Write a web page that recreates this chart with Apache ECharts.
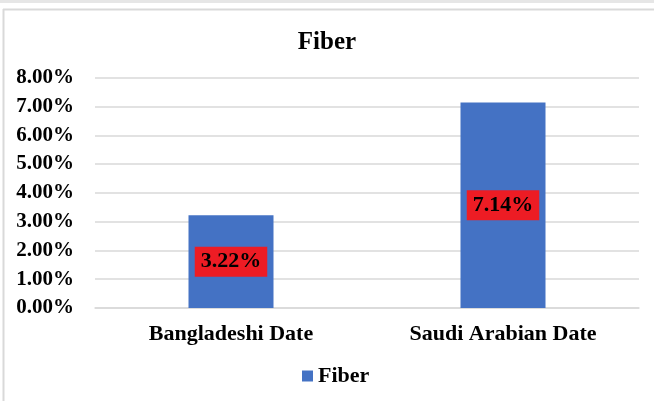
<!DOCTYPE html>
<html>
<head>
<meta charset="utf-8">
<style>
  html, body { margin: 0; padding: 0; background: #ffffff; }
  #chart { width: 654px; height: 401px; }
</style>
<script src="https://cdn.jsdelivr.net/npm/echarts@6/dist/echarts.min.js"></script>
</head>
<body>
<div id="chart"></div>
<script>
// Fiber content by date variety
const categories = ['Bangladeshi Date', 'Saudi Arabian Date'];
const seriesName = 'Fiber';
const fiberValues = [0.0322, 0.0714];
const yTicks = { min: 0, max: 0.08, interval: 0.01 };

const serif = '"Liberation Serif", "Times New Roman", serif';
const pct = v => (v * 100).toFixed(2) + '%';

const chart = echarts.init(document.getElementById('chart'), null, { renderer: 'canvas' });

chart.setOption({
  backgroundColor: '#ffffff',
  animation: false,
  graphic: [
    { type: 'rect', shape: { x: 0, y: 0, width: 654, height: 3 }, style: { fill: '#e6e6e6' }, silent: true },
    { type: 'line', shape: { x1: 3, y1: 9.5, x2: 654, y2: 9.5 }, style: { stroke: '#d9d9d9', lineWidth: 2 }, silent: true },
    { type: 'line', shape: { x1: 3.5, y1: 9, x2: 3.5, y2: 401 }, style: { stroke: '#d9d9d9', lineWidth: 2 }, silent: true }
  ],
  title: {
    text: seriesName,
    left: 'center',
    top: 25,
    textStyle: { fontFamily: serif, fontWeight: 'bold', fontSize: 25, color: '#000' }
  },
  legend: {
    data: [seriesName],
    left: 297,
    top: 360,
    icon: 'rect',
    itemWidth: 11,
    itemHeight: 11,
    itemGap: 5,
    textStyle: { fontFamily: serif, fontWeight: 'bold', fontSize: 22, color: '#000' }
  },
  grid: { left: 95, right: 15, top: 77.7, bottom: 93, containLabel: false },
  xAxis: {
    type: 'category',
    data: categories,
    axisLine: { lineStyle: { color: '#d9d9d9', width: 1.5 } },
    axisTick: { show: false },
    axisLabel: { margin: 15, fontFamily: serif, fontWeight: 'bold', fontSize: 22, color: '#000' }
  },
  yAxis: {
    type: 'value',
    min: yTicks.min,
    max: yTicks.max,
    interval: yTicks.interval,
    axisLine: { show: false },
    axisTick: { show: false },
    splitLine: { lineStyle: { color: '#d9d9d9', width: 1.5 } },
    axisLabel: {
      margin: 21,
      formatter: pct,
      fontFamily: serif, fontWeight: 'bold', fontSize: 21, color: '#000'
    }
  },
  series: [{
    name: seriesName,
    type: 'bar',
    data: fiberValues,
    barWidth: 85,
    itemStyle: { color: '#4472c4' },
    label: {
      show: true,
      position: 'inside',
      formatter: p => pct(p.value),
      backgroundColor: '#ed1c24',
      padding: [5, 6, 3, 6],
      fontFamily: serif, fontWeight: 'bold', fontSize: 22, color: '#000'
    }
  }]
});
</script>
</body>
</html>
